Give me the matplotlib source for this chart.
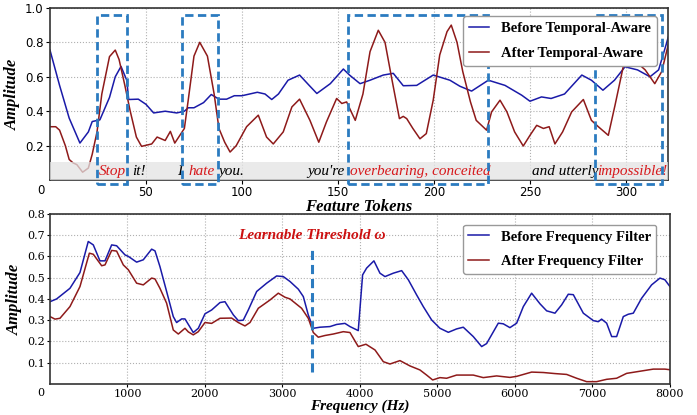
import matplotlib
matplotlib.use("Agg")
import matplotlib.pyplot as plt
from matplotlib.patches import Rectangle

# ---- datos panel superior (tokens) ----
tok_x_antes = [0, 5, 10, 15.6, 20, 22, 26, 31, 34, 37, 40, 41, 46, 50, 54, 60, 66, 70, 72, 75,
               80, 84, 88, 92, 96, 100, 104, 108, 112, 115.5, 119, 124, 130, 135, 139, 146,
               152.8, 156, 161.5, 166.7, 173.6, 178.8, 184, 191, 199.6, 208.3, 213.5, 219.6,
               228.3, 237, 245.7, 250, 256, 261, 268, 277, 282, 288, 294, 299.5, 306, 312.5,
               317, 321, 322]
tok_y_antes = [0.755, 0.55, 0.36, 0.215, 0.28, 0.34, 0.35, 0.48, 0.60, 0.66, 0.58, 0.468, 0.47,
               0.44, 0.39, 0.40, 0.39, 0.40, 0.42, 0.42, 0.45, 0.497, 0.47, 0.47, 0.49, 0.49,
               0.50, 0.51, 0.50, 0.468, 0.50, 0.58, 0.61, 0.55, 0.503, 0.56, 0.645, 0.61, 0.56,
               0.58, 0.61, 0.62, 0.548, 0.55, 0.61, 0.58, 0.545, 0.517, 0.58, 0.55, 0.493,
               0.458, 0.483, 0.474, 0.50, 0.61, 0.58, 0.522, 0.58, 0.658, 0.64, 0.60, 0.64,
               0.79, 0.83]

tok_x_despues = [0, 3, 5, 8, 10, 12, 14, 17, 20, 22, 24.5, 27, 31, 34, 36, 39, 41.7, 45, 47.7,
                 53, 55.8, 60, 62.7, 65, 70, 72, 75, 78, 82, 85.5, 88, 91, 93.8, 97, 102.4,
                 108.5, 112.8, 116.3, 121.5, 126, 130, 135.4, 140, 144, 149.3, 152, 154.5, 159,
                 163, 166.7, 171, 174.5, 178, 182, 184, 185.8, 189, 192.7, 196, 199.6, 203,
                 206.8, 209, 212, 215, 219, 222, 227.4, 230, 234.4, 238, 242, 246.5, 250,
                 253.5, 257, 260, 263, 267, 271.7, 277.8, 282, 285.6, 290.8, 294.3, 298.6, 302,
                 306, 310, 315, 318.6, 322]
tok_y_despues = [0.31, 0.31, 0.29, 0.20, 0.12, 0.10, 0.09, 0.046, 0.07, 0.15, 0.28, 0.50, 0.717,
                 0.755, 0.70, 0.55, 0.405, 0.25, 0.196, 0.21, 0.25, 0.23, 0.283, 0.215, 0.30,
                 0.464, 0.72, 0.80, 0.72, 0.50, 0.30, 0.22, 0.163, 0.20, 0.31, 0.377, 0.25,
                 0.21, 0.28, 0.425, 0.47, 0.347, 0.22, 0.338, 0.474, 0.445, 0.454, 0.347, 0.50,
                 0.746, 0.87, 0.80, 0.59, 0.357, 0.37, 0.357, 0.30, 0.24, 0.27, 0.464, 0.727,
                 0.862, 0.90, 0.80, 0.63, 0.454, 0.347, 0.29, 0.396, 0.464, 0.396, 0.28, 0.198,
                 0.26, 0.318, 0.30, 0.31, 0.21, 0.28, 0.396, 0.468, 0.347, 0.31, 0.26, 0.435,
                 0.66, 0.70, 0.68, 0.64, 0.56, 0.63, 0.785]

# frases en la banda gris: (texto, x inicio, color)
frases = [("Stop", 25.5, "#d7191c"), ("it!", 43, "black"), ("I", 66, "black"),
          ("hate", 72, "#d7191c"), ("you.", 87.5, "black"), ("you're", 134, "black"),
          ("overbearing, conceited", 156.5, "#d7191c"), ("and utterly", 251, "black"),
          ("impossible!", 285, "#d7191c")]
# cajas resaltadas: (inicio, fin)
cajas = [(24.5, 40), (69, 87.5), (155, 228), (284, 319)]

# ---- datos panel inferior (frecuencia) ----
freq_antes = [0, 86, 258, 387, 494, 559, 645, 710, 796, 860, 968, 1011, 1118, 1204, 1312, 1355,
              1419, 1505, 1591, 1634, 1699, 1742, 1849, 1914, 2000, 2086, 2194, 2258, 2366,
              2430, 2494, 2559, 2667, 2796, 2925, 3011, 3097, 3204, 3269, 3333, 3398, 3484,
              3613, 3699, 3806, 3871, 3978, 4034, 4086, 4180, 4258, 4323, 4430, 4538, 4624,
              4731, 4817, 4925, 5032, 5140, 5247, 5333, 5462, 5570, 5634, 5785, 5849, 5935,
              6022, 6108, 6215, 6323, 6409, 6516, 6602, 6688, 6753, 6882, 7011, 7075, 7118,
              7183, 7248, 7312, 7398, 7462, 7527, 7634, 7763, 7871, 7935, 8000]
amp_antes = [0.387, 0.40, 0.45, 0.524, 0.67, 0.654, 0.579, 0.579, 0.654, 0.65, 0.607, 0.60,
             0.573, 0.584, 0.634, 0.626, 0.552, 0.435, 0.317, 0.289, 0.306, 0.306, 0.242,
             0.262, 0.33, 0.348, 0.383, 0.387, 0.325, 0.298, 0.30, 0.348, 0.435, 0.474, 0.508,
             0.505, 0.482, 0.446, 0.411, 0.325, 0.262, 0.267, 0.27, 0.28, 0.285, 0.27, 0.251,
             0.513, 0.545, 0.579, 0.521, 0.505, 0.521, 0.533, 0.49, 0.419, 0.364, 0.301,
             0.262, 0.243, 0.259, 0.267, 0.223, 0.176, 0.19, 0.286, 0.283, 0.265, 0.286,
             0.364, 0.427, 0.377, 0.344, 0.333, 0.372, 0.422, 0.42, 0.333, 0.298, 0.293,
             0.305, 0.286, 0.223, 0.223, 0.317, 0.328, 0.333, 0.403, 0.466, 0.498, 0.49, 0.458]

freq_despues = [0, 65, 129, 258, 387, 508, 559, 667, 710, 796, 860, 946, 1011, 1118, 1204, 1312,
                1355, 1419, 1505, 1591, 1656, 1742, 1785, 1849, 1914, 2000, 2086, 2194, 2344,
                2430, 2516, 2581, 2688, 2839, 2946, 3032, 3097, 3247, 3333, 3398, 3462, 3548,
                3656, 3785, 3871, 3978, 4077, 4194, 4301, 4387, 4516, 4645, 4774, 4860, 4938,
                5032, 5118, 5247, 5462, 5591, 5763, 5935, 6022, 6215, 6366, 6516, 6667, 6796,
                6925, 7054, 7183, 7312, 7441, 7613, 7785, 7935, 8000]
amp_despues = [0.317, 0.305, 0.309, 0.364, 0.458, 0.615, 0.61, 0.556, 0.56, 0.628, 0.625, 0.56,
               0.537, 0.474, 0.466, 0.498, 0.494, 0.45, 0.38, 0.254, 0.235, 0.262, 0.245,
               0.231, 0.246, 0.289, 0.285, 0.309, 0.31, 0.289, 0.273, 0.289, 0.356, 0.395,
               0.427, 0.408, 0.40, 0.356, 0.309, 0.242, 0.22, 0.228, 0.235, 0.246, 0.242, 0.176,
               0.187, 0.16, 0.105, 0.094, 0.11, 0.085, 0.066, 0.042, 0.019, 0.03, 0.027, 0.042,
               0.042, 0.03, 0.038, 0.031, 0.036, 0.056, 0.054, 0.049, 0.045, 0.027, 0.011,
               0.011, 0.022, 0.027, 0.05, 0.06, 0.07, 0.07, 0.067]
umbral = 3380

AZUL = "#1a1aa8"
ROJO = "#8e1a1a"
CAJA = "#2b7bc0"
SERIF = "Liberation Serif"

fig = plt.figure(figsize=(6.97, 4.15), dpi=100)

# ---------- panel superior ----------
ax1 = fig.add_axes([0.0717, 0.566, 0.887, 0.415])
ax1.plot(tok_x_antes, tok_y_antes, color=AZUL, linewidth=1.1, label="Before Temporal-Aware")
ax1.plot(tok_x_despues, tok_y_despues, color=ROJO, linewidth=1.1, label="After Temporal-Aware")
ax1.axhspan(0, 0.108, color="#e4e4e4", alpha=0.75, zorder=3, linewidth=0)
for texto, x0, col in frases:
    ax1.text(x0, 0.052, texto, color=col, fontsize=11, family=SERIF, style="italic",
             va="center", ha="left", zorder=4)
for a, b in cajas:
    r = Rectangle((a, -0.02), b - a, 0.98, fill=False, edgecolor=CAJA, linewidth=2,
                  linestyle=(0, (3, 1.6)), clip_on=False, zorder=5)
    ax1.add_patch(r)
ax1.set_xlim(0, 322)
ax1.set_ylim(0, 1.0)
ax1.set_xticks([50, 100, 150, 200, 250, 300])
ax1.set_yticks([0.2, 0.4, 0.6, 0.8, 1.0])
ax1.tick_params(labelsize=8.5, length=3, pad=1.5)
ax1.text(-0.015, -0.025, "0", transform=ax1.transAxes, fontsize=8.5, ha="center", va="top")
ax1.grid(True, linestyle=":", color="#b0b0b0", linewidth=0.8)
ax1.set_xlabel("Feature Tokens", family=SERIF, fontweight="bold", style="italic", fontsize=12)
ax1.xaxis.set_label_coords(0.5, -0.112)
ax1.set_ylabel("Amplitude", family=SERIF, fontweight="bold", style="italic", fontsize=12)
ax1.yaxis.set_label_coords(-0.047, 0.5)
leg1 = ax1.legend(loc="upper right", bbox_to_anchor=(0.993, 0.995),
                  prop={"family": SERIF, "weight": "bold", "size": 10.5},
                  handlelength=1.4, labelspacing=0.8, edgecolor="#999999",
                  framealpha=1, fancybox=True)
leg1.set_zorder(6)

# ---------- panel inferior ----------
ax2 = fig.add_axes([0.0717, 0.0747, 0.8895, 0.41])
ax2.plot(freq_antes, amp_antes, color=AZUL, linewidth=1.1, label="Before Frequency Filter")
ax2.plot(freq_despues, amp_despues, color=ROJO, linewidth=1.1, label="After Frequency Filter")
ax2.plot([umbral, umbral], [0.058, 0.63], color=CAJA, linewidth=2.2, linestyle=(0, (3, 1.6)))
ax2.text(umbral, 0.70, "Learnable Threshold \u03c9", color="#cc1111", family=SERIF,
         fontweight="bold", style="italic", fontsize=11, ha="center", va="center")
ax2.set_xlim(0, 8000)
ax2.set_ylim(0, 0.8)
ax2.set_xticks([1000, 2000, 3000, 4000, 5000, 6000, 7000, 8000])
ax2.set_yticks([0.1, 0.2, 0.3, 0.4, 0.5, 0.6, 0.7, 0.8])
ax2.tick_params(labelsize=8, length=2.5, pad=1)
for lab in ax2.get_xticklabels() + ax2.get_yticklabels():
    lab.set_family("DejaVu Serif")
ax2.text(-0.015, -0.025, "0", transform=ax2.transAxes, fontsize=8, ha="center", va="top",
         family="DejaVu Serif")
ax2.grid(True, linestyle=":", color="#b0b0b0", linewidth=0.8)
ax2.set_xlabel("Frequency (Hz)", family=SERIF, fontweight="bold", style="italic", fontsize=11)
ax2.xaxis.set_label_coords(0.5, -0.092)
ax2.set_ylabel("Amplitude", family=SERIF, fontweight="bold", style="italic", fontsize=12)
ax2.yaxis.set_label_coords(-0.043, 0.5)
ax2.legend(loc="upper right", bbox_to_anchor=(0.99, 0.98),
           prop={"family": SERIF, "weight": "bold", "size": 10.5},
           handlelength=1.4, labelspacing=0.8, edgecolor="#999999",
           framealpha=1, fancybox=True)

for ax in (ax1, ax2):
    for s in ax.spines.values():
        s.set_color("#333333")
        s.set_linewidth(1.2)

fig.savefig("out.png", dpi=100)
